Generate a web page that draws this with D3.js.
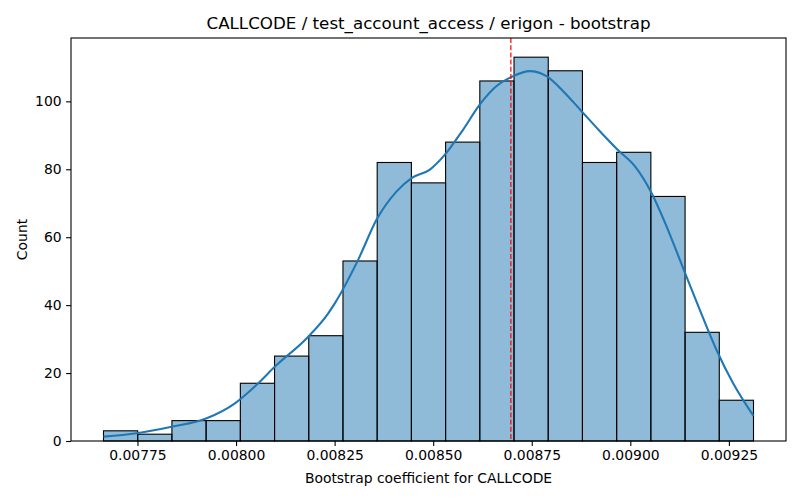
<!DOCTYPE html>
<html>
<head>
<meta charset="utf-8">
<script src="https://cdn.jsdelivr.net/npm/d3@7"></script>
<style>
  body { margin: 0; background: #fff; }
  text { font-family: "DejaVu Sans", sans-serif; fill: #000; }
</style>
</head>
<body>
<div id="chart"></div>
<script>
// histogram bins (19 equal bins between data min and max)
var binStart = 0.0076638;
var binEnd = 0.0093124;
var counts = [3, 2, 6, 6, 17, 25, 31, 53, 82, 76, 88, 106, 113, 109, 82, 85, 72, 32, 12];

// kde curve (x value, count)
var kdeX = [0.0076638, 0.0077480, 0.0078367, 0.0079255, 0.0079972, 0.0080563, 0.0080986,
            0.0081831, 0.0082338, 0.0082508, 0.0083099, 0.0083565, 0.0084072, 0.0084452,
            0.0084916, 0.0085297, 0.0085761, 0.0086184, 0.0086608, 0.0086988, 0.0087452,
            0.0087875, 0.0088296, 0.0088763, 0.0089227, 0.0089691, 0.0090114, 0.0090538,
            0.0090918, 0.0091339, 0.0091762, 0.0092186, 0.0092607, 0.0093124];
var kdeY = [1.3, 2.3, 4.2, 6.7, 11.1, 17.0, 21.9, 30.7, 37.6, 40.6, 53.4, 65.2, 73.5, 77.4,
            79.9, 84.3, 91.7, 99.1, 104.5, 107.2, 108.9, 107.4, 103.0, 97.1, 91.2, 85.6,
            80.9, 73.0, 63.2, 50.9, 38.6, 26.8, 17.0, 7.4];

var meanValue = 0.008697;
var xTicks = [0.00775, 0.00800, 0.00825, 0.00850, 0.00875, 0.00900, 0.00925];
var yTicks = [0, 20, 40, 60, 80, 100];

var titleText = "CALLCODE / test_account_access / erigon - bootstrap";
var xLabel = "Bootstrap coefficient for CALLCODE";
var yLabel = "Count";

var W = 800, H = 500;
var margin = {top: 38, right: 14, bottom: 59, left: 71};
var width = W - margin.left - margin.right;
var height = H - margin.top - margin.bottom;

var svg = d3.select("#chart")
    .append("svg")
    .attr("width", W)
    .attr("height", H);

var g = svg.append("g")
    .attr("transform", "translate(" + margin.left + "," + margin.top + ")");

// 5% padding like matplotlib
var pad = (binEnd - binStart) * 0.05;
var x = d3.scaleLinear()
    .domain([binStart - pad, binEnd + pad])
    .range([0, width]);
var y = d3.scaleLinear()
    .domain([0, d3.max(counts) * 1.05])
    .range([height, 0]);

var binW = (binEnd - binStart) / counts.length;
var bins = counts.map(function(c, i) {
    return {x0: binStart + i * binW, x1: binStart + (i + 1) * binW, n: c};
});

// bars
g.selectAll("rect.bar")
    .data(bins)
    .enter()
    .append("rect")
    .attr("class", "bar")
    .attr("x", function(d) { return x(d.x0); })
    .attr("y", function(d) { return y(d.n); })
    .attr("width", function(d) { return x(d.x1) - x(d.x0); })
    .attr("height", function(d) { return y(0) - y(d.n); })
    .attr("fill", "rgba(31,119,180,0.5)")
    .attr("stroke", "#000")
    .attr("stroke-width", 1.1);

// kde line
var kde = kdeX.map(function(v, i) { return {x: v, y: kdeY[i]}; });
g.append("path")
    .datum(kde)
    .attr("fill", "none")
    .attr("stroke", "#1f77b4")
    .attr("stroke-width", 2.1)
    .attr("d", d3.line()
        .curve(d3.curveMonotoneX)
        .x(function(d) { return x(d.x); })
        .y(function(d) { return y(d.y); })
    );

// mean line
g.append("line")
    .attr("x1", x(meanValue))
    .attr("x2", x(meanValue))
    .attr("y1", 0)
    .attr("y2", height)
    .attr("stroke", "red")
    .attr("stroke-width", 1.2)
    .attr("stroke-dasharray", "5,2.2");

// X axis
var xAxis = g.append("g")
    .attr("transform", "translate(0," + height + ")")
    .call(d3.axisBottom(x)
        .tickValues(xTicks)
        .tickFormat(d3.format(".5f"))
        .tickSize(4.9)
        .tickPadding(4.5));

// Y axis
var yAxis = g.append("g")
    .call(d3.axisLeft(y)
        .tickValues(yTicks)
        .tickSize(4.9)
        .tickPadding(4.5));

[xAxis, yAxis].forEach(function(a) {
    a.select(".domain").remove();
    a.selectAll(".tick line").attr("stroke", "#000").attr("stroke-width", 1.1);
    a.selectAll(".tick text").style("font-size", "13.9px").style("font-family", "DejaVu Sans");
});

// frame
g.append("rect")
    .attr("x", 0)
    .attr("y", 0)
    .attr("width", width)
    .attr("height", height)
    .attr("fill", "none")
    .attr("stroke", "#000")
    .attr("stroke-width", 1.1);

// labels
svg.append("text")
    .attr("x", margin.left + width / 2)
    .attr("y", 29)
    .attr("text-anchor", "middle")
    .style("font-size", "16.7px")
    .text(titleText);

svg.append("text")
    .attr("x", margin.left + width / 2)
    .attr("y", 483)
    .attr("text-anchor", "middle")
    .style("font-size", "13.9px")
    .text(xLabel);

svg.append("text")
    .attr("transform", "translate(27," + (margin.top + height / 2) + ") rotate(-90)")
    .attr("text-anchor", "middle")
    .style("font-size", "13.9px")
    .text(yLabel);
</script>
</body>
</html>
